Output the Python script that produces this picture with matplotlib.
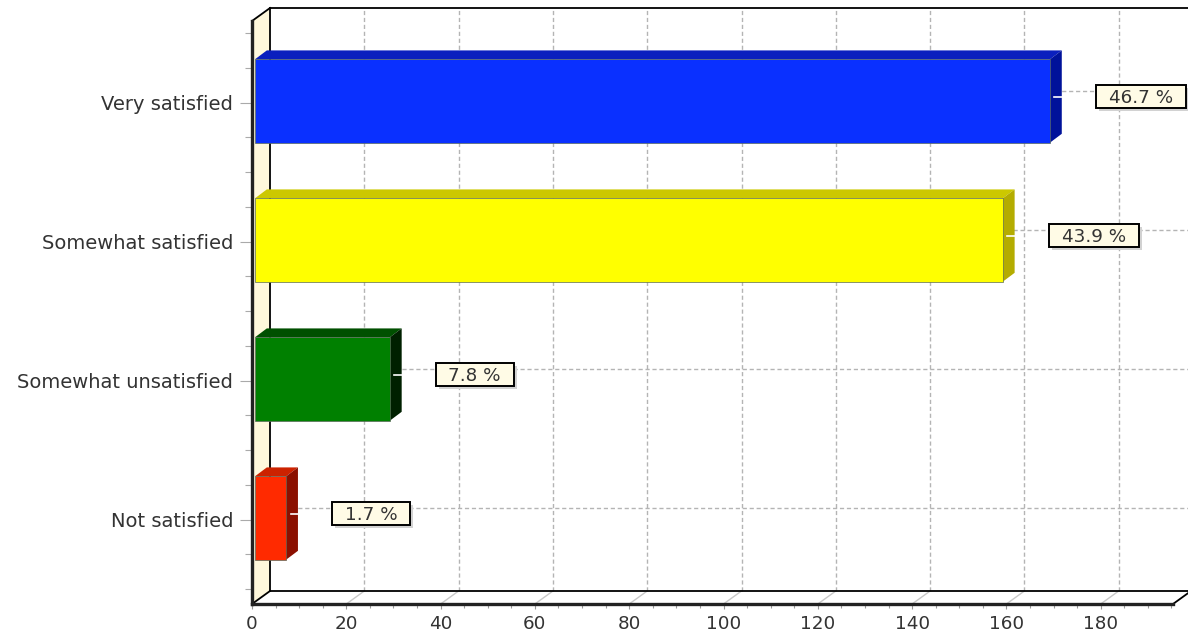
import matplotlib
matplotlib.use("Agg")
import matplotlib.pyplot as plt
from matplotlib.patches import Polygon, Rectangle
from matplotlib.ticker import MultipleLocator

categories = ["Not satisfied", "Somewhat unsatisfied", "Somewhat satisfied", "Very satisfied"]
values = [6, 28, 158, 168]
percent_labels = ["1.7 %", "7.8 %", "43.9 %", "46.7 %"]
front_colors = ["#FF2A00", "#008000", "#FFFF00", "#0A30FF"]
top_colors = ["#CC2200", "#005000", "#CCC800", "#0A1FBE"]
side_colors = ["#8B1000", "#002000", "#B4AC00", "#00129A"]

W, H = 1188, 633
L, R, T, B = 252, 1173, 21, 604
PX_X = (1100.7 - 252) / 180
PX_Y = 139.0
CY0 = 519.5

plt.rcParams["font.family"] = ["DejaVu Sans"]
fig = plt.figure(figsize=(W / 100, H / 100), dpi=100, facecolor="white")
ax = fig.add_axes([L / W, 1 - B / H, (R - L) / W, (B - T) / H])
ax.set_xlim(0, (R - L) / PX_X)
ax.set_ylim((CY0 - B) / PX_Y, (CY0 - T) / PX_Y)
ax.patch.set_visible(False)

dx_wall, dy_wall = 18 / PX_X, 13 / PX_Y
dx_bar, dy_bar = 12 / PX_X, 9 / PX_Y
xmin, xmax = ax.get_xlim()
ymin, ymax = ax.get_ylim()
grid = dict(color="#B4B4B4", lw=1, ls=(0, (3, 2)), zorder=1, clip_on=False)

ax.add_patch(Polygon([(xmin, ymin), (xmin + dx_wall, ymin + dy_wall),
                      (xmin + dx_wall, ymax + dy_wall), (xmin, ymax)],
                     closed=True, fc="#FFF8DC", ec="none", zorder=0, clip_on=False))

for v in range(20, 201, 20):
    ax.plot([v + dx_wall] * 2, [ymin + dy_wall, ymax + dy_wall], **grid)
    ax.plot([v, v + dx_wall], [ymin, ymin + dy_wall],
            color="#C8C8C8", lw=1, zorder=1, clip_on=False)
for i in range(len(categories)):
    ax.plot([dx_wall, xmax + dx_wall], [i + dy_wall - 0.01] * 2, **grid)

frame = dict(color="black", lw=1.3, zorder=2, clip_on=False)
ax.plot([xmin + dx_wall] * 2, [ymin + dy_wall, ymax + dy_wall], **frame)
ax.plot([xmin + dx_wall, xmax + dx_wall], [ymax + dy_wall] * 2, **frame)
ax.plot([xmin + dx_wall, xmax + dx_wall], [ymin + dy_wall] * 2, **frame)
ax.plot([xmin, xmin + dx_wall], [ymax, ymax + dy_wall], **frame)
ax.plot([xmin, xmin + dx_wall], [ymin, ymin + dy_wall], **frame)
ax.plot([xmax, xmax + dx_wall], [ymin, ymin + dy_wall], **frame)

base = 0.6
end_shift = 1.2
half = 0.3
box_h = 23 / PX_Y
for i, v in enumerate(values):
    x0, x1 = base, v + end_shift
    y0, y1 = i - half + 0.01, i + half + 0.01
    ax.add_patch(Polygon([(x0, y1), (x0 + dx_bar, y1 + dy_bar), (x1 + dx_bar, y1 + dy_bar), (x1, y1)],
                         closed=True, fc=top_colors[i], ec="none", zorder=3))
    ax.add_patch(Polygon([(x1, y0), (x1 + dx_bar, y0 + dy_bar), (x1 + dx_bar, y1 + dy_bar), (x1, y1)],
                         closed=True, fc=side_colors[i], ec="none", zorder=3))
    ax.add_patch(Rectangle((x0, y0), x1 - x0, y1 - y0, fc=front_colors[i],
                           ec="#5A6A5A", lw=0.5, zorder=4))
    ty = i + 0.04
    ax.plot([x1 + 1, x1 + dx_bar], [ty, ty], color="white", lw=1.2, zorder=5)
    bx = x1 + dx_bar + 34 / PX_X
    bw = (18 + 12 * len(percent_labels[i])) / PX_X
    ax.add_patch(Rectangle((bx + 3 / PX_X, ty - box_h / 2 - 3 / PX_Y), bw, box_h, fc="#D2D2D2",
                           ec="none", zorder=6, clip_on=False))
    ax.add_patch(Rectangle((bx, ty - box_h / 2), bw, box_h, fc="#FFFBE6", ec="black", lw=1.4,
                           zorder=7, clip_on=False))
    ax.text(bx + bw / 2, ty - 0.005, percent_labels[i], ha="center", va="center", fontsize=13.2,
            color="#333333", zorder=8, clip_on=False)

for s in ["top", "right"]:
    ax.spines[s].set_visible(False)
for s in ["left", "bottom"]:
    ax.spines[s].set_linewidth(2.4)
    ax.spines[s].set_color("#222222")
    ax.spines[s].set_zorder(2)
ax.set_yticks(range(len(categories)), categories)
ax.yaxis.set_minor_locator(MultipleLocator(0.25))
ax.xaxis.set_major_locator(MultipleLocator(20))
ax.xaxis.set_minor_locator(MultipleLocator(5))
ax.tick_params(axis="y", which="major", length=8.6, width=0.8, color="#AAAAAA", labelsize=14,
               labelcolor="#333333", pad=5)
ax.tick_params(axis="y", which="minor", length=5, width=0.8, color="#AAAAAA")
ax.tick_params(axis="x", which="major", length=3.5, width=0.8, color="#999999", labelsize=13.2,
               labelcolor="#333333", pad=4.5)
ax.tick_params(axis="x", which="minor", length=3, width=0.8, color="#999999")

fig.savefig("out.png", dpi=100)
